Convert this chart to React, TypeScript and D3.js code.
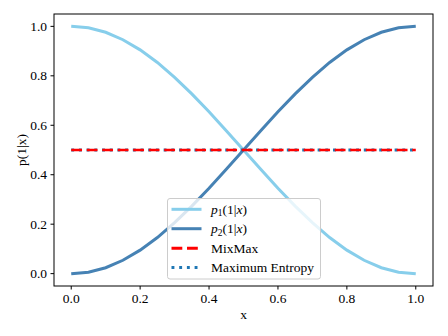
import * as d3 from 'd3';

const xValues = [0, 0.05, 0.1, 0.15, 0.2, 0.25, 0.3, 0.35, 0.4, 0.45, 0.5, 0.55, 0.6, 0.65, 0.7, 0.75, 0.8, 0.85, 0.9, 0.95, 1.0];
const p1Values = [1.0, 0.994, 0.976, 0.946, 0.905, 0.854, 0.794, 0.727, 0.655, 0.578, 0.5, 0.422, 0.345, 0.273, 0.206, 0.146, 0.095, 0.054, 0.024, 0.006, 0.0];
const p2Values = [0.0, 0.006, 0.024, 0.054, 0.095, 0.146, 0.206, 0.273, 0.345, 0.422, 0.5, 0.578, 0.655, 0.727, 0.794, 0.854, 0.905, 0.946, 0.976, 0.994, 1.0];
const mixMaxValues = [0.5, 0.5, 0.5, 0.5, 0.5, 0.5, 0.5, 0.5, 0.5, 0.5, 0.5, 0.5, 0.5, 0.5, 0.5, 0.5, 0.5, 0.5, 0.5, 0.5, 0.5];
const maxEntValues = [0.5, 0.5, 0.5, 0.5, 0.5, 0.5, 0.5, 0.5, 0.5, 0.5, 0.5, 0.5, 0.5, 0.5, 0.5, 0.5, 0.5, 0.5, 0.5, 0.5, 0.5];
const xTicks = [0, 0.2, 0.4, 0.6, 0.8, 1.0];
const yTicks = [0, 0.2, 0.4, 0.6, 0.8, 1.0];

const W = 448;
const H = 336;
const left = 54;
const right = 433;
const top = 14;
const bottom = 286;
const font = '"Liberation Serif", "Times New Roman", serif';
const fs = 13.5;

export default function App() {
  const x = d3.scaleLinear().domain([-0.05, 1.05]).range([left, right]);
  const y = d3.scaleLinear().domain([-0.05, 1.05]).range([bottom, top]);

  const line = (vals: number[]) =>
    d3
      .line<number>()
      .x((_, i) => x(xValues[i]))
      .y((d) => y(d))(vals) || '';

  const lx = 167.5;
  const ly = 198.5;
  const rowY = [209.3, 228.7, 248.2, 267.6];

  return (
    <svg width={W} height={H} style={{ position: 'absolute', left: 0, top: 0 }} fontFamily={font}>
      <rect width={W} height={H} fill="#fff" />
      <path d={line(p1Values)} fill="none" stroke="#87ceeb" strokeWidth={3} />
      <path d={line(p2Values)} fill="none" stroke="#4682b4" strokeWidth={3} />
      <path d={line(maxEntValues)} fill="none" stroke="#1f77b4" strokeWidth={3} strokeDasharray="2.9,4.8" />
      <path d={line(mixMaxValues)} fill="none" stroke="red" strokeWidth={2.6} strokeDasharray="10.8,4.7" />

      {/* frame */}
      <rect x={left} y={top} width={right - left} height={bottom - top} fill="none" stroke="#000" strokeWidth={1} />

      {xTicks.map((t) => (
        <g key={'x' + t}>
          <line x1={x(t)} x2={x(t)} y1={bottom} y2={bottom + 3.5} stroke="#000" />
          <text x={x(t)} y={302.5} textAnchor="middle" fontSize={fs}>
            {t.toFixed(1)}
          </text>
        </g>
      ))}
      {yTicks.map((t) => (
        <g key={'y' + t}>
          <line x1={left - 3.5} x2={left} y1={y(t)} y2={y(t)} stroke="#000" />
          <text x={47} y={y(t)} dy="0.33em" textAnchor="end" fontSize={fs}>
            {t.toFixed(1)}
          </text>
        </g>
      ))}
      <text x={(left + right) / 2} y={318.5} textAnchor="middle" fontSize={fs}>
        x
      </text>
      <text transform={`translate(25.5,${(top + bottom) / 2}) rotate(-90)`} textAnchor="middle" fontSize={fs}>
        p(1|x)
      </text>

      {/* legend */}
      <rect x={lx} y={ly} width={153} height={80.5} rx={2.5} fill="#fff" fillOpacity={0.8} stroke="#ccc" strokeWidth={1} />
      <line x1={171.5} x2={201.5} y1={rowY[0]} y2={rowY[0]} stroke="#87ceeb" strokeWidth={3} />
      <line x1={171.5} x2={201.5} y1={rowY[1]} y2={rowY[1]} stroke="#4682b4" strokeWidth={3} />
      <line x1={171.5} x2={201.5} y1={rowY[2]} y2={rowY[2]} stroke="red" strokeWidth={3} strokeDasharray="10.8,4.7" />
      <line x1={171.5} x2={201.5} y1={rowY[3]} y2={rowY[3]} stroke="#1f77b4" strokeWidth={3} strokeDasharray="2.9,4.8" />
      <text x={211} y={rowY[0]} dy="0.33em" fontSize={fs}>
        <tspan fontStyle="italic">p</tspan>
        <tspan fontSize={fs * 0.7} dy="2.5">1</tspan>
        <tspan dy="-2.5">(1|</tspan>
        <tspan fontStyle="italic">x</tspan>
        <tspan>)</tspan>
      </text>
      <text x={211} y={rowY[1]} dy="0.33em" fontSize={fs}>
        <tspan fontStyle="italic">p</tspan>
        <tspan fontSize={fs * 0.7} dy="2.5">2</tspan>
        <tspan dy="-2.5">(1|</tspan>
        <tspan fontStyle="italic">x</tspan>
        <tspan>)</tspan>
      </text>
      <text x={211} y={rowY[2]} dy="0.33em" fontSize={fs}>
        MixMax
      </text>
      <text x={211} y={rowY[3]} dy="0.33em" fontSize={fs}>
        Maximum Entropy
      </text>
    </svg>
  );
}
